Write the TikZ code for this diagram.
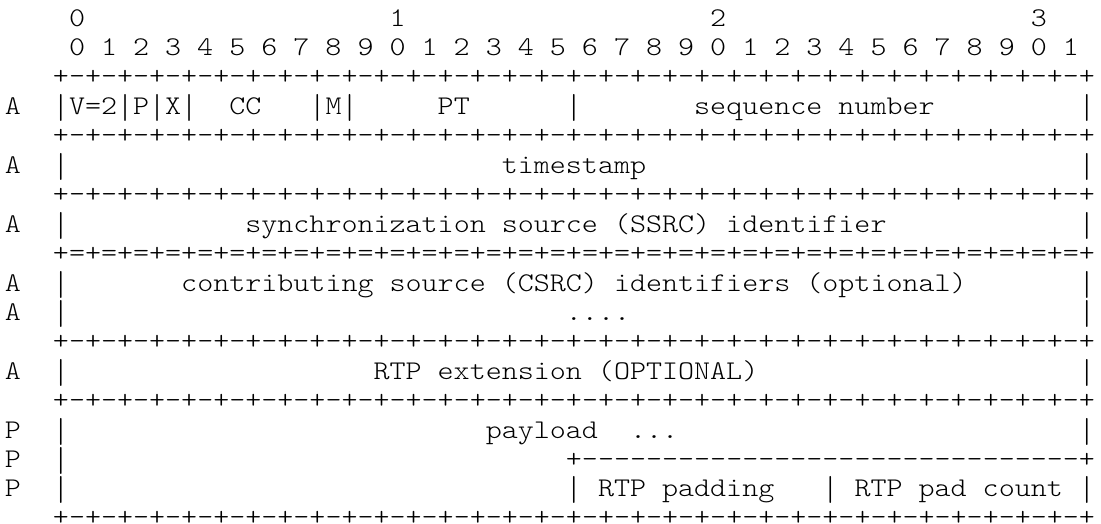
\documentclass[tikz,border=0pt]{standalone}
\usepackage{fontspec}
\usepackage{graphicx}
\newfontfamily\mono{lmmonolt10-regular.otf}[Ligatures=TeXOff,FakeStretch=1.1309]
\newlength\cw
\newcommand\rep[2]{\ifnum#1>0 #2\expandafter\rep\expandafter{\the\numexpr#1-1\relax}{#2}\fi}
\newcommand\gp[1]{\hspace*{#1\cw}}
\newcommand\vb{\raisebox{-0.15em}{\scalebox{1}[1.28]{|}}}
\newcommand\ruleline{\gp{3}+\rep{32}{-+}}
\begin{document}
\begin{tikzpicture}[x=1pt,y=1pt,
  row/.style={anchor=base west, inner sep=0pt, outer sep=0pt, text=black,
    font={\mono\fontsize{27pt}{29.4pt}\selectfont\frenchspacing\settowidth\cw{x}\spaceskip=\cw\relax}}]
\useasboundingbox (0,0) rectangle (1101,-524);
\def\xz{4.9}
\node[row] (r1)  at (\xz,-26.2)  {\gp{4}0\gp{19}1\gp{19}2\gp{19}3};
\node[row] (r2)  at (\xz,-55.6)  {\gp{4}0 1 2 3 4 5 6 7 8 9 0 1 2 3 4 5 6 7 8 9 0 1 2 3 4 5 6 7 8 9 0 1};
\node[row] (r3)  at (\xz,-85.0)  {\ruleline};
\node[row] (r4)  at (\xz,-114.4) {A\gp{2}\vb V=2\vb P\vb X\vb\gp{2}CC\gp{3}\vb M\vb\gp{5}PT\gp{6}\vb\gp{7}sequence number\gp{9}\vb};
\node[row] (r5)  at (\xz,-143.8) {\ruleline};
\node[row] (r6)  at (\xz,-173.2) {A\gp{2}\vb\gp{27}timestamp\gp{27}\vb};
\node[row] (r7)  at (\xz,-202.6) {\ruleline};
\node[row] (r8)  at (\xz,-232.0) {A\gp{2}\vb\gp{11}synchronization source (SSRC) identifier\gp{12}\vb};
\node[row] (r9)  at (\xz,-261.4) {\gp{3}+\rep{32}{=+}};
\node[row] (r10) at (\xz,-291.2) {A\gp{2}\vb\gp{7}contributing source (CSRC) identifiers (optional)\gp{7}\vb};
\node[row] (r11) at (\xz,-320.2) {A\gp{2}\vb\gp{31}....\gp{28}\vb};
\node[row] (r12) at (\xz,-349.6) {\ruleline};
\node[row] (r13) at (\xz,-379.4) {A\gp{2}\vb\gp{19}RTP extension (OPTIONAL)\gp{20}\vb};
\node[row] (r14) at (\xz,-408.4) {\ruleline};
\node[row] (r15) at (\xz,-438.0) {P\gp{2}\vb\gp{26}payload\gp{2}...\gp{25}\vb};
\node[row] (r16) at (\xz,-467.2) {P\gp{2}\vb\gp{31}+\rep{31}{-}+};
\node[row] (r17) at (\xz,-496.6) {P\gp{2}\vb\gp{31}\vb{} RTP padding\gp{3}\vb{} RTP pad count \vb};
\node[row] (r18) at (\xz,-525.0) {\ruleline};
\end{tikzpicture}
\end{document}
